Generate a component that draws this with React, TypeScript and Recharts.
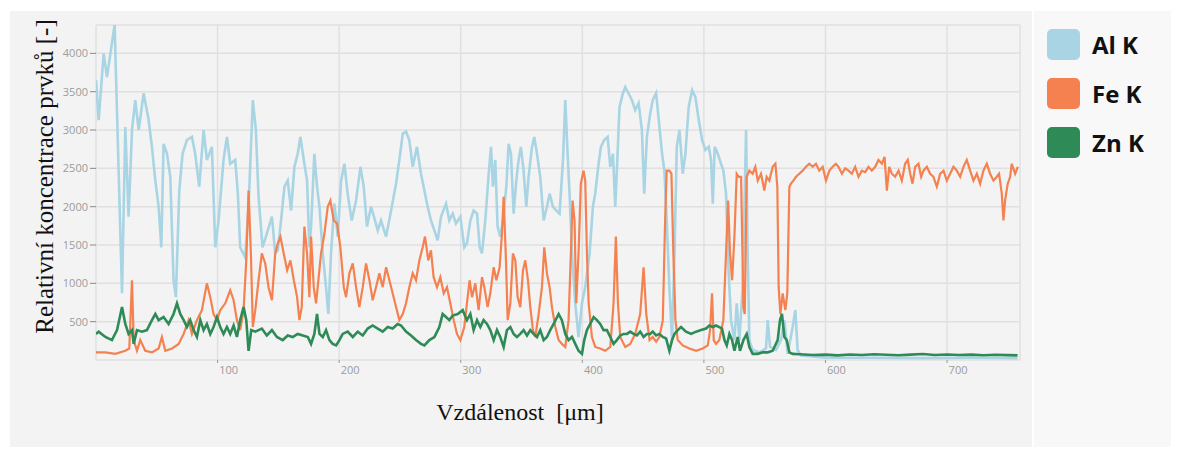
import React from 'react';
import { LineChart, Line, XAxis, YAxis, CartesianGrid, Legend, Label } from 'recharts';

// [distance µm, relative concentration]
const alK: [number, number][] = [
  [0,3650],[2.2,3130],[6.3,4000],[9,3690],[15.3,4370],[21.4,870],[24.1,3040],[26.8,1870],[29.6,3000],[32.3,3390],
  [35.1,3000],[39.2,3480],[43.3,3130],[46,2780],[48.8,2340],[51.5,2000],[53.7,1470],[55.6,2820],[58.4,2690],[61.1,2390],
  [63.8,1040],[65.7,820],[68.5,2210],[71.2,2690],[74.8,2870],[78.9,2910],[81.6,2690],[84.9,2260],[88.5,3000],[91.2,2610],
  [95.3,2780],[98.1,1470],[100.8,1820],[104.9,2610],[107.7,2910],[110.4,2560],[114.5,2610],[116.7,2170],[118.6,1470],[122.7,1340],
  [125.5,2000],[129,3390],[131.5,3000],[133.7,2130],[137,1470],[140.5,1650],[144.7,1870],[147.4,1390],[149.5,1430],[152.2,1820],
  [155,2260],[157.7,2340],[160.5,1950],[163.2,2520],[165.9,2690],[168.1,2910],[170.9,2610],[173.6,2340],[175.5,1470],[176.9,1740],
  [179.6,2690],[181.8,2260],[183.8,2000],[186.5,1390],[189.2,950],[191.1,600],[193.3,1390],[196.1,2040],[198.8,1610],[201.6,2340],
  [204.3,2560],[207,2170],[210.3,1820],[213.9,2080],[217.5,2520],[220.2,2260],[222.9,1740],[226.2,2000],[229.5,1820],[231.7,1690],
  [234.4,1820],[238.6,1610],[242.7,1950],[246.8,2300],[249.5,2610],[252.3,2950],[255,2980],[257.7,2870],[260.5,2520],[264,2780],
  [267.3,2430],[270.1,2210],[272.8,2000],[275.5,1820],[278.3,1690],[281,1560],[283.8,1870],[287.9,2040],[290.6,1820],[293.4,1910],
  [296.1,1780],[299.7,1870],[302.9,1470],[305.1,1520],[307.9,1820],[310.6,1950],[313.4,1910],[315.6,1470],[317.5,1390],[320.2,1820],
  [323,2430],[324.9,2780],[326.5,2260],[328.4,2610],[330.3,1740],[332.5,1610],[334.7,1820],[337.5,2260],[339.4,2820],[341.3,2690],
  [343.5,1910],[345.7,2340],[347.6,2610],[349.5,2780],[351.7,2470],[353.9,2000],[355.8,2390],[358.6,2780],[360.5,2910],[362.7,2690],
  [365.4,2390],[368.2,1820],[370.9,2000],[373.1,2170],[375.8,2000],[378.6,1950],[381.3,1910],[384.1,2610],[386,3390],[387.9,2690],
  [389.5,2170],[391.5,1390],[394.2,740],[396.9,300],[399.7,740],[402.4,950],[406,1390],[408.7,2000],[410.6,2170],[413.4,2560],
  [415.3,2780],[418,2870],[420.8,2910],[423,2520],[425.2,2690],[427.1,2000],[429,2690],[430.6,3300],[433.4,3480],[435.3,3560],
  [438,3480],[440.8,3390],[443.5,3260],[446.3,3350],[449,3000],[450.9,2170],[453.1,2910],[455.8,3210],[457.9,3390],[460.7,3480],
  [462.9,3130],[465.6,2690],[467.5,2470],[469.4,1820],[471.6,950],[473.8,260],[475.8,1390],[477.7,2780],[479.9,3000],[482.6,2430],
  [484.8,2690],[487.5,3300],[490.3,3520],[493,3430],[495.8,3130],[498.5,2870],[501.2,2740],[504,2780],[505.9,2610],[507.3,2040],
  [508.9,2780],[511.4,2690],[514.1,2560],[516,2470],[518.2,2170],[520.4,1130],[522.3,520],[525.1,260],[527,740],[529.2,260],
  [531.9,950],[534.7,3000],[536,1390],[537.4,260],[540.1,130],[545.6,100],[551.1,150],[552.5,520],[554.4,170],[559.3,130],
  [563.4,260],[566.2,520],[568.9,80],[573,430],[575.2,650],[577.1,130],[579.9,60],[600,30],[640,30],[680,25],[720,30],[758,25],
];

const feK: [number, number][] = [
  [0,100],[7.7,100],[15.9,80],[24.1,120],[27.4,150],[29.6,1040],[31,260],[33.7,120],[36.4,260],[40.5,120],
  [46,100],[51.5,150],[54.2,300],[57,120],[62.5,150],[68,210],[72.1,340],[76.2,520],[78.9,340],[83,520],
  [87.1,650],[91.2,1000],[94,820],[96.7,600],[99.5,520],[102.2,650],[106.3,740],[110.4,910],[113.2,780],[115.9,520],
  [118.6,390],[121.4,650],[123.6,1300],[125.5,2210],[127.4,1390],[129,430],[131,650],[133.7,1040],[136.4,1390],[139.2,1260],
  [141.9,950],[144.7,780],[147.4,1390],[149.5,1520],[151.7,1610],[154.4,1390],[157.2,1170],[159.9,1300],[162.7,1040],[165.4,820],
  [167.3,520],[169.2,690],[171.4,1740],[173.6,1390],[175.5,820],[176.9,1610],[179.1,950],[181,740],[182.9,1040],[185.1,1390],
  [187.9,1650],[190.6,2000],[192.8,2080],[195.5,1820],[198.3,1780],[201,1470],[203.8,950],[205.7,820],[208.4,1130],[211.2,1260],
  [213.9,950],[216.6,690],[219.4,950],[222.1,1260],[224.9,1040],[227.6,780],[230.3,950],[233.1,1130],[235.8,950],[238.6,1210],
  [241.3,1040],[244,870],[246.8,690],[249.5,520],[252.3,600],[255,740],[257.7,950],[260.5,1130],[263.2,1040],[266,1300],
  [268.7,1470],[270.6,1610],[273.3,1300],[275.5,1430],[277.7,1080],[280.5,950],[283.2,1080],[286,870],[288.7,950],[291.4,740],
  [294.2,520],[296.9,340],[299.7,260],[302.9,430],[305.1,740],[307.3,1040],[309.3,820],[312,1000],[314.7,650],[317.5,1080],
  [319.4,950],[322.1,690],[324.3,870],[327.1,1210],[329.3,1040],[332,1210],[333.9,1650],[335.3,2130],[337.2,1300],[338.6,520],
  [340.8,740],[342.9,1390],[344.9,1300],[346.8,820],[349,690],[351.2,1170],[353.1,1300],[355.3,1040],[357.2,690],[359.4,390],
  [361.3,300],[364.1,600],[366.8,950],[368.7,1470],[370.9,1130],[373.1,950],[375,690],[377.8,430],[380.5,260],[383.2,210],
  [386,170],[388.7,520],[390.6,1390],[392,2080],[393.6,1820],[395,740],[396.9,1390],[398.8,2300],[401,2470],[402.4,2340],
  [403.8,1390],[405.2,740],[407.9,300],[410.6,170],[414.7,150],[418.8,120],[423,170],[425.7,740],[427.6,1610],[429.3,740],
  [431.2,300],[435.3,170],[439.4,210],[443.5,340],[447.6,600],[450.4,1210],[452.6,600],[455.3,260],[457.9,300],[460.7,240],
  [463.4,300],[466.2,520],[468.1,1820],[469.4,2470],[471.6,2470],[473.3,2430],[474.9,1390],[476.6,520],[478.5,260],[482.6,190],
  [488.1,150],[493.6,120],[499,150],[503.2,190],[505.1,390],[506.7,870],[508.1,260],[510,210],[512.7,260],[516,520],
  [518.2,1390],[519.9,2080],[521.5,1390],[523.2,1040],[525.1,1610],[527,2430],[528.6,2390],[530.6,2390],[532.5,690],[533.6,600],
  [535.2,2390],[537.4,2470],[540.1,2430],[542.3,2520],[544.3,2340],[547,2430],[549.7,2210],[551.6,2390],[553.8,2340],[556.6,2520],
  [558.8,2560],[560.4,2260],[561.5,950],[562.9,600],[564.8,870],[567,650],[568.6,870],[570.3,2260],[571.6,2300],[573.6,2340],
  [575.8,2390],[578.5,2430],[581.2,2470],[584,2520],[586.7,2560],[589.5,2520],[592.2,2560],[594.9,2470],[597.7,2520],[600.4,2340],
  [603.2,2470],[605.9,2520],[608.6,2560],[610.7,2520],[613.5,2430],[616.2,2500],[619,2470],[621.7,2430],[624.4,2520],[627.2,2390],
  [629.9,2470],[632.7,2450],[635.4,2520],[638.1,2470],[640.9,2520],[643.6,2610],[646.4,2560],[648.6,2650],[650.5,2210],[652.4,2520],
  [654.6,2430],[657.3,2390],[660.1,2470],[662.8,2340],[665.5,2560],[667.7,2610],[669.7,2430],[671.6,2300],[673.8,2520],[676.5,2560],
  [678.7,2390],[680.6,2470],[683.4,2520],[686.1,2430],[688.8,2390],[691.6,2260],[694.3,2430],[697.1,2470],[699.8,2340],[702.5,2430],
  [705.3,2520],[708,2470],[710.8,2390],[713.5,2520],[716.2,2610],[719,2470],[721.7,2340],[724.5,2430],[727.2,2300],[729.9,2470],
  [732.7,2560],[735.4,2430],[738.2,2340],[740.9,2390],[742.8,2430],[745,2170],[746.4,1820],[747.7,2080],[749.9,2300],[751.9,2390],
  [753.2,2560],[756,2430],[758.2,2520],
];

const znK: [number, number][] = [
  [0,340],[2.2,370],[7.7,300],[13.1,260],[17.3,390],[21.4,690],[24.1,470],[26.8,340],[29.6,390],[31,210],
  [33.7,390],[37.8,370],[41.9,390],[46,520],[48.8,600],[51.5,520],[55.6,560],[59.7,470],[63.8,600],[66.6,740],
  [69.3,600],[72.1,520],[74.8,430],[77.5,520],[80.3,390],[83,300],[85.8,520],[88.5,390],[91.2,470],[94,340],
  [96.7,430],[99.5,560],[102.2,430],[104.9,340],[107.7,430],[110.4,340],[113.2,450],[115.9,300],[118.6,520],[121.4,690],
  [123.6,520],[125.5,120],[127.7,390],[131,370],[133.7,390],[136.4,410],[140.5,320],[144.7,390],[148.8,300],[153.6,260],
  [157.7,320],[161.8,300],[165.9,340],[170.1,320],[174.2,300],[176.9,210],[179.6,340],[181.8,600],[183.8,340],[186.5,300],
  [189.2,390],[192,260],[194.7,210],[197.5,190],[200.2,260],[202.9,340],[207,370],[211.2,300],[215.3,370],[219.4,320],
  [223.5,410],[227.6,450],[231.7,410],[235.8,370],[239.9,430],[244,410],[248.1,470],[250.9,450],[255,370],[259.1,320],
  [263.2,260],[267.3,210],[270.1,190],[274.2,260],[278.3,300],[282.4,430],[285.1,600],[287.9,560],[290.6,520],[293.4,580],
  [297.5,600],[301.6,650],[305.1,520],[307.9,600],[310.6,390],[313.4,520],[316.1,430],[318.8,520],[321.6,470],[324.3,390],
  [327.1,260],[329.8,390],[332.5,300],[335.3,170],[338,390],[340.8,430],[343.5,340],[346.2,300],[349,340],[351.7,390],
  [354.5,320],[357.2,390],[359.9,340],[362.7,300],[365.4,390],[368.2,260],[370.9,300],[373.6,390],[376.4,470],[380.5,600],
  [383.2,520],[386,340],[388.7,260],[391.5,300],[394.2,210],[396.9,120],[399.7,80],[401.6,260],[403.8,390],[406.5,470],
  [409.3,560],[412,520],[414.7,470],[417.5,390],[420.2,390],[423,300],[425.7,210],[428.4,260],[431.2,320],[433.9,340],
  [436.7,340],[439.4,370],[442.1,340],[444.9,320],[447.6,370],[450.4,300],[453.1,340],[455.8,340],[457.9,370],[460.7,320],
  [463.4,340],[466.2,300],[468.9,280],[471.6,120],[473.8,260],[475.8,340],[478.5,390],[481.2,430],[485.3,370],[489.5,340],
  [493.6,370],[497.7,390],[501.8,410],[504.5,450],[507.3,430],[510,450],[512.7,430],[514.9,410],[516.9,260],[518.8,190],
  [521,340],[523.2,260],[525.1,120],[527.8,300],[529.7,120],[532.5,260],[535.2,340],[537.4,170],[540.1,80],[544.3,80],
  [548.4,100],[552.5,100],[556.6,120],[560.7,260],[562.6,520],[564.2,600],[566.2,300],[568.1,260],[570.3,100],[573,80],
  [578.5,75],[590,65],[600,70],[610,60],[620,72],[630,66],[640,75],[650,68],[660,62],[670,70],
  [680,78],[690,65],[700,72],[710,66],[720,70],[730,62],[740,68],[750,64],[758,60],
];

const seriesNames = ['Al K', 'Fe K', 'Zn K'];
const seriesColors = ['#a9d4e4', '#f4814f', '#2e8b57'];
const xTicks = [100, 200, 300, 400, 500, 600, 700];
const yTicks = [500, 1000, 1500, 2000, 2500, 3000, 3500, 4000];
const xTitle = 'Vzdálenost\u00a0 [μm]';
const yTitle = 'Relativní koncentrace prvků [-]';

const toRows = (pts: [number, number][]) => pts.map(([x, v]) => ({ x, v }));
const series = [alK, feK, znK];

const XTick = (props: any) => {
  const { x, y, payload } = props;
  return (
    <text x={x + 11} y={y + 9} textAnchor="middle" fontFamily="Open Sans" fontSize={11} fill="#9b9b9b">
      {payload.value}
    </text>
  );
};

const YTick = (props: any) => {
  const { x, y, payload } = props;
  return (
    <text x={x} y={y + 4} textAnchor="end" fontFamily="Open Sans" fontSize={11} fill="#9b9b9b">
      {payload.value}
    </text>
  );
};

const XTitle = (props: any) => {
  const vb = props.viewBox;
  return (
    <text x={vb.x + vb.width / 2 - 38} y={vb.y + 60} textAnchor="middle" fontFamily="Liberation Serif" fontSize={24} fill="#111">
      {xTitle}
    </text>
  );
};

const YTitle = (props: any) => {
  const vb = props.viewBox;
  const cx = vb.x + 17;
  const cy = vb.y + vb.height / 2 - 16;
  return (
    <text x={cx} y={cy} transform={`rotate(-90 ${cx} ${cy})`} textAnchor="middle" fontFamily="Liberation Serif" fontSize={25} fill="#111">
      {yTitle}
    </text>
  );
};

const LegendBox = () => (
  <div style={{ display: 'flex', flexDirection: 'column', gap: 17 }}>
    {seriesNames.map((n, i) => (
      <div key={n} style={{ display: 'flex', alignItems: 'center', height: 32 }}>
        <div style={{ width: 33, height: 31, borderRadius: 5, background: seriesColors[i] }} />
        <span style={{ marginLeft: 12, fontFamily: 'Open Sans', fontWeight: 700, fontSize: 24, color: '#111' }}>{n}</span>
      </div>
    ))}
  </div>
);

export default function App() {
  return (
    <div style={{ position: 'relative', width: 1171, height: 444, background: '#ffffff' }}>
      <div style={{ position: 'absolute', left: 2, top: 3, width: 1022, height: 436, background: '#f3f3f3' }} />
      <div style={{ position: 'absolute', left: 1026, top: 3, width: 145, height: 436, background: '#f8f8f8' }} />
      <div style={{ position: 'absolute', left: 0, top: 0 }}>
        <LineChart width={1171} height={444} margin={{ top: 17, right: 159, bottom: 62, left: 28 }}>
          <CartesianGrid stroke="#e0e0e0" strokeWidth={1.5} />
          <XAxis
            type="number"
            dataKey="x"
            domain={[0, 760]}
            allowDataOverflow
            ticks={xTicks}
            height={30}
            axisLine={false}
            tickLine={{ stroke: '#999' }}
            tickSize={3}
            tick={<XTick />}
          >
            <Label content={<XTitle />} />
          </XAxis>
          <YAxis
            type="number"
            domain={[0, 4370]}
            allowDataOverflow
            ticks={yTicks}
            width={60}
            axisLine={false}
            tickLine={{ stroke: '#888' }}
            tickSize={6}
            tick={<YTick />}
          >
            <Label content={<YTitle />} />
          </YAxis>
          {series.map((pts, i) => (
            <Line
              key={seriesNames[i]}
              data={toRows(pts)}
              dataKey="v"
              name={seriesNames[i]}
              type="linear"
              stroke={seriesColors[i]}
              strokeWidth={i === 1 ? 2.2 : 2.6}
              dot={false}
              activeDot={false}
              isAnimationActive={false}
            />
          ))}
          <Legend
            layout="horizontal"
            verticalAlign="middle"
            align="center"
            wrapperStyle={{ left: 1039, top: 20, width: 130 }}
            content={<LegendBox />}
          />
        </LineChart>
      </div>
    </div>
  );
}
